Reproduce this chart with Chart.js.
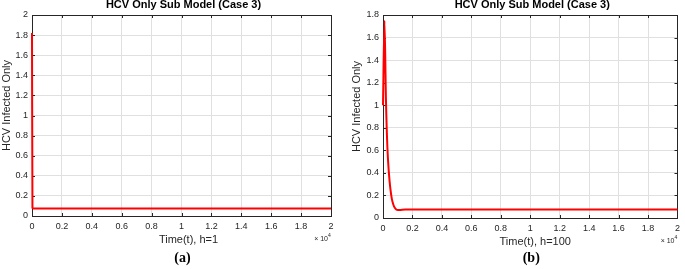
<!DOCTYPE html>
<html>
<head>
<meta charset="utf-8">
<script src="https://cdn.jsdelivr.net/npm/chart.js@4.4.1/dist/chart.umd.min.js"></script>
<style>
  html, body { margin: 0; padding: 0; background: #fff; }
  #wrap { position: relative; width: 685px; height: 269px; overflow: hidden; }
  .cv { position: absolute; top: 0; }
</style>
</head>
<body>
<div id="wrap">
  <div class="cv" style="left:0;width:340px;height:269px"><canvas id="chartA"></canvas></div>
  <div class="cv" style="left:340px;width:345px;height:269px"><canvas id="chartB"></canvas></div>
</div>
<script>
(function () {
  // Panel (a): h=1
  var timeA = [0, 30, 100, 20000];
  var hcvA  = [1.82, 0.08, 0.075, 0.075];

  // Panel (b): h=100
  var timeB = [0, 100, 200, 300, 400, 500, 600, 700, 800, 900, 1000, 1200, 1500, 20000];
  var hcvB  = [1.0, 1.75, 1.05, 0.62, 0.40, 0.26, 0.17, 0.12, 0.09, 0.075, 0.07, 0.072, 0.075, 0.075];

  var TITLE = 'HCV Only Sub Model (Case 3)';
  var Y_LABEL = 'HCV Infected Only';
  var FONT = '"Liberation Sans", Arial, Helvetica, sans-serif';
  var INK = '#262626';

  function fmt(v) { return String(+v.toFixed(1)); }

  function pts(xs, ys) {
    return xs.map(function (x, i) { return { x: x, y: ys[i] }; });
  }

  // MATLAB-style box + inward ticks (under the curve), texts around the axes
  var framePlugin = {
    id: 'frame',
    beforeDatasetsDraw: function (chart) {
      var a = chart.chartArea;
      var ctx = chart.ctx;
      var xs = chart.scales.x, ys = chart.scales.y;
      ctx.save();
      ctx.strokeStyle = INK;
      ctx.lineWidth = 1;
      ctx.beginPath();
      xs.ticks.forEach(function (t) {
        var px = Math.round(xs.getPixelForValue(t.value)) + 0.5;
        ctx.moveTo(px, a.bottom); ctx.lineTo(px, a.bottom - 3);
        ctx.moveTo(px, a.top);    ctx.lineTo(px, a.top + 3);
      });
      ys.ticks.forEach(function (t) {
        var py = Math.round(ys.getPixelForValue(t.value)) + 0.5;
        ctx.moveTo(a.left, py);  ctx.lineTo(a.left + 3, py);
        ctx.moveTo(a.right, py); ctx.lineTo(a.right - 3, py);
      });
      ctx.stroke();
      ctx.strokeRect(Math.round(a.left) + 0.5, Math.round(a.top) + 0.5,
        Math.round(a.right - a.left), Math.round(a.bottom - a.top));
      ctx.restore();
    },
    afterDraw: function (chart) {
      var o = chart.options.plugins.frame;
      var a = chart.chartArea;
      var ctx = chart.ctx;
      var cx = (a.left + a.right) / 2;
      ctx.save();
      ctx.fillStyle = '#000';
      ctx.textAlign = 'center';
      ctx.textBaseline = 'middle';
      ctx.font = 'bold 11px ' + FONT;
      ctx.fillText(TITLE, cx + 2, 5);

      ctx.fillStyle = INK;
      ctx.font = '11px ' + FONT;
      ctx.fillText(o.xLabel, cx + o.xShift, a.bottom + 24);

      ctx.save();
      ctx.translate(a.left - o.yLabelGap, (a.top + a.bottom) / 2 - 10);
      ctx.rotate(-Math.PI / 2);
      ctx.fillText(Y_LABEL, 0, 0);
      ctx.restore();

      ctx.textAlign = 'right';
      ctx.font = '7px ' + FONT;
      ctx.fillText('\u00d7 10', a.right - 3, a.bottom + 23);
      ctx.font = '5px ' + FONT;
      ctx.textAlign = 'left';
      ctx.fillText('4', a.right - 3, a.bottom + 20);

      ctx.fillStyle = '#000';
      ctx.textAlign = 'center';
      ctx.font = 'bold 14px "Liberation Serif", "DejaVu Serif", serif';
      ctx.fillText(o.panel, cx + 1, 258);
      ctx.restore();
    },
  };

  function makeChart(id, xs, ys, cfg) {
    return new Chart(document.getElementById(id), {
      type: 'line',
      plugins: [framePlugin],
      data: {
        datasets: [{
          data: pts(xs, ys),
          borderColor: '#ff0000',
          borderWidth: 2,
          pointRadius: 0,
          cubicInterpolationMode: 'monotone',
          fill: false,
          clip: 3,
        }],
      },
      options: {
        responsive: true,
        maintainAspectRatio: false,
        animation: false,
        layout: { padding: { top: 15, right: cfg.padRight, bottom: 0, left: 0 } },
        plugins: {
          legend: { display: false },
          tooltip: { enabled: false },
          frame: { xLabel: cfg.xLabel, panel: cfg.panel, xShift: cfg.xShift, yLabelGap: cfg.yLabelGap },
        },
        scales: {
          x: {
            type: 'linear',
            min: 0,
            max: 20000,
            afterFit: function (s) { s.height = cfg.xHeight; },
            border: { display: false },
            grid: { color: '#e0e0e0', drawTicks: false },
            ticks: {
              stepSize: 2000,
              padding: 5,
              color: INK,
              font: { size: 9, family: FONT },
              maxRotation: 0,
              autoSkip: false,
              callback: function (v) { return fmt(v / 10000); },
            },
          },
          y: {
            min: 0,
            max: cfg.yMax,
            afterFit: function (s) { s.width = cfg.yWidth; },
            border: { display: false },
            grid: { color: '#e0e0e0', drawTicks: false },
            ticks: {
              stepSize: 0.2,
              padding: 4,
              color: INK,
              font: { size: 9, family: FONT },
              autoSkip: false,
              callback: function (v) { return fmt(v); },
            },
          },
        },
      },
    });
  }

  makeChart('chartA', timeA, hcvA, {
    xLabel: 'Time(t), h=1', panel: '(a)', yMax: 2,
    yWidth: 32, xHeight: 53, padRight: 9, xShift: 7, yLabelGap: 25,
  });
  makeChart('chartB', timeB, hcvB, {
    xLabel: 'Time(t), h=100', panel: '(b)', yMax: 1.8,
    yWidth: 43, xHeight: 51, padRight: 2, xShift: 5, yLabelGap: 26,
  });
})();
</script>
</body>
</html>
